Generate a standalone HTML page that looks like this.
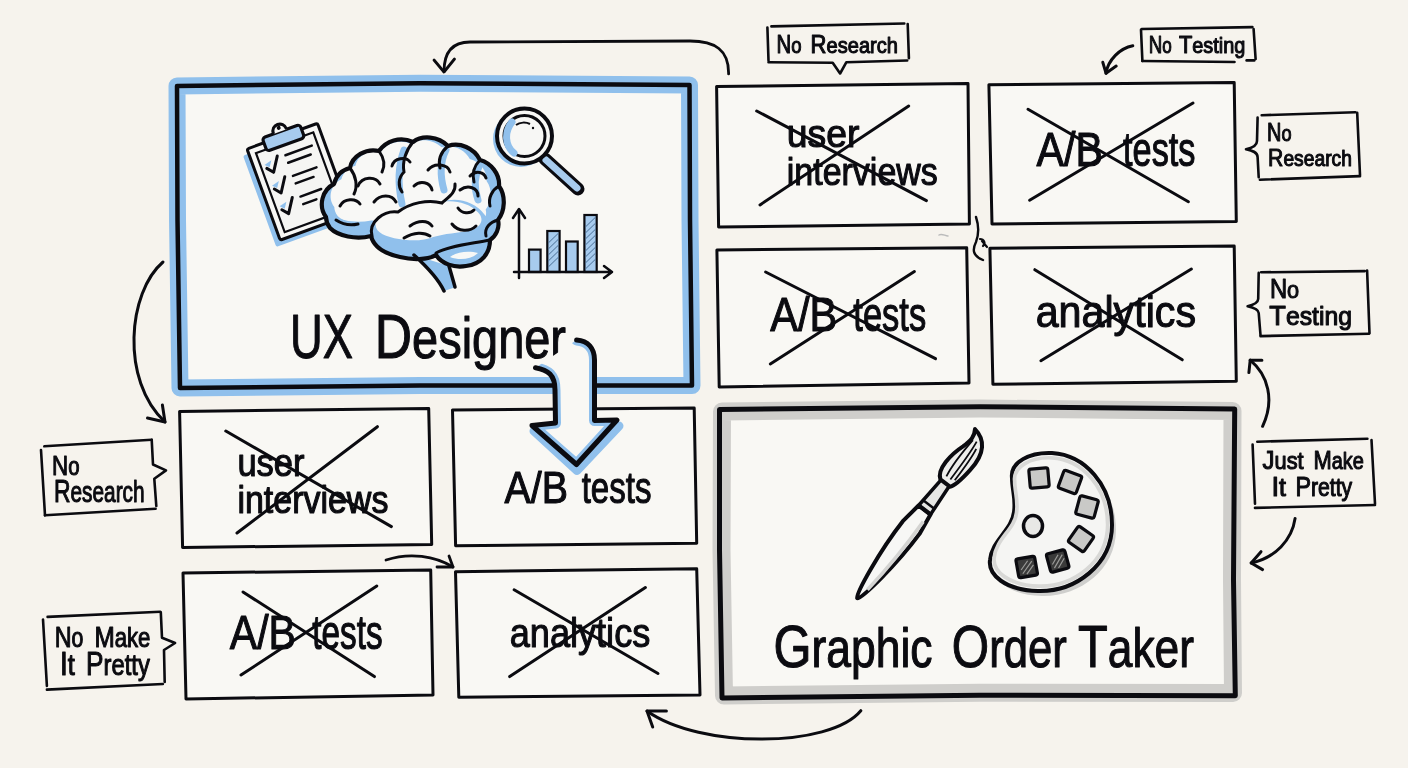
<!DOCTYPE html>
<html><head><meta charset="utf-8"><style>
html,body{margin:0;padding:0;background:#f6f3ed;overflow:hidden;}
svg{display:block;will-change:transform;}
text{font-family:"Liberation Sans",sans-serif;fill:#0b0b10;}
</style></head><body>
<svg width="1408" height="768" viewBox="0 0 1408 768">
<rect width="1408" height="768" fill="#f6f3ed"/>
<path d="M177,86 L420,83.2 L689.5,85 L690,220 L692,385.5 L420,385.4 L180,388 L177.5,220 Z" fill="#f9f8f4" stroke="#90c0ec" stroke-width="17" stroke-linejoin="round" stroke-linecap="round" />
<path d="M177,86 L420,83.2 L689.5,85 L690,220 L692,385.5 L420,385.4 L180,388 L177.5,220 Z" fill="none" stroke="#0b0b10" stroke-width="4.5" stroke-linejoin="round" stroke-linecap="round" />
<path d="M716.6,86.5 L968,83.6 L969.4,224 L718.6,227 Z" fill="#f9f8f4" stroke="#0b0b10" stroke-width="3" stroke-linejoin="round" stroke-linecap="round" />
<path d="M988.9,84.8 L1234.2,82.6 L1236.3,221.6 L992,224 Z" fill="#f9f8f4" stroke="#0b0b10" stroke-width="3" stroke-linejoin="round" stroke-linecap="round" />
<path d="M716.9,250 L966.7,247.7 L969,382.9 L719.2,386.9 Z" fill="#f9f8f4" stroke="#0b0b10" stroke-width="3" stroke-linejoin="round" stroke-linecap="round" />
<path d="M989.9,248.3 L1234.2,245.9 L1236.3,381.2 L992.9,384.2 Z" fill="#f9f8f4" stroke="#0b0b10" stroke-width="3" stroke-linejoin="round" stroke-linecap="round" />
<path d="M179.6,411.5 L428.7,408.5 L431.7,544.5 L182.6,547.5 Z" fill="#f9f8f4" stroke="#0b0b10" stroke-width="3" stroke-linejoin="round" stroke-linecap="round" />
<path d="M452.5,410 L694.2,408 L696.7,543.3 L455.6,545.8 Z" fill="#f9f8f4" stroke="#0b0b10" stroke-width="3" stroke-linejoin="round" stroke-linecap="round" />
<path d="M183,573 L430.7,570 L433,695 L186,699 Z" fill="#f9f8f4" stroke="#0b0b10" stroke-width="3" stroke-linejoin="round" stroke-linecap="round" />
<path d="M455.5,571.7 L696.7,568.8 L700,695 L458.8,697.2 Z" fill="#f9f8f4" stroke="#0b0b10" stroke-width="3" stroke-linejoin="round" stroke-linecap="round" />
<path d="M722,411.5 L980,408.5 L1232.5,411 L1232,580 L1233,693 L980,692.7 L724,695.5 L721.5,550 Z" fill="#f9f8f4" stroke="#cfcecb" stroke-width="18" stroke-linejoin="round" stroke-linecap="round" />
<path d="M719.5,409.5 L980,406.8 L1234.7,408.9 L1233.5,580 L1235.3,695.7 L980,695.3 L722,698 L719.5,550 Z" fill="none" stroke="#0b0b10" stroke-width="5" stroke-linejoin="round" stroke-linecap="round" />
<g transform="rotate(-20 247 149)">
<rect x="241" y="154" width="75" height="97" fill="#90c0ec" rx="2"/>
<rect x="247" y="149" width="75" height="97" fill="#f7f7f5" stroke="#0b0b10" stroke-width="3" rx="2"/>
<rect x="254" y="156" width="61" height="84" fill="#f5f5f3" stroke="#0b0b10" stroke-width="2.2"/>
<rect x="265" y="144" width="40" height="14" rx="3" fill="#a7cbee" stroke="#0b0b10" stroke-width="3.2"/>
<path d="M277,144 C277,134 291,134 291,144" fill="#f7f7f5" stroke="#0b0b10" stroke-width="3.2"/>
<circle cx="284" cy="140" r="2" fill="#0b0b10"/>
<path d="M259,174 L264,180 L273,166" fill="none" stroke="#0b0b10" stroke-width="3" stroke-linecap="round" stroke-linejoin="round"/>
<path d="M258,170 L262,174 L266,168 Z" fill="#90c0ec"/>
<line x1="281" y1="168" x2="309" y2="168" stroke="#0b0b10" stroke-width="2.5" stroke-linecap="round"/>
<line x1="281" y1="176" x2="305" y2="176" stroke="#0b0b10" stroke-width="2.5" stroke-linecap="round"/>
<path d="M259,196 L264,202 L273,188" fill="none" stroke="#0b0b10" stroke-width="3" stroke-linecap="round" stroke-linejoin="round"/>
<path d="M258,192 L262,196 L266,190 Z" fill="#90c0ec"/>
<line x1="281" y1="190" x2="306" y2="190" stroke="#0b0b10" stroke-width="2.5" stroke-linecap="round"/>
<line x1="281" y1="198" x2="300" y2="198" stroke="#0b0b10" stroke-width="2.5" stroke-linecap="round"/>
<path d="M259,218 L264,224 L273,210" fill="none" stroke="#0b0b10" stroke-width="3" stroke-linecap="round" stroke-linejoin="round"/>
<path d="M258,214 L262,218 L266,212 Z" fill="#90c0ec"/>
<line x1="281" y1="212" x2="303" y2="212" stroke="#0b0b10" stroke-width="2.5" stroke-linecap="round"/>
<line x1="281" y1="220" x2="295" y2="220" stroke="#0b0b10" stroke-width="2.5" stroke-linecap="round"/>
</g>
<path d="M326,217 C318,206 322,190 334,184 C336,176 342,170 350,168 C352,156 366,148 379,151 C386,141 400,136 413,142 C422,135 438,136 448,146 C460,142 474,148 480,160 C491,163 500,174 499,186 C506,196 505,211 498,220 C500,228 496,236 490,240 C490,253 482,264 466,266 C454,268 442,264 436,255 C428,260 412,260 400,257 C386,254 374,248 371,236 C356,240 338,236 330,228 C327,224 326,220 326,217 Z" fill="#90c0ec" stroke="none"/>
<path d="M326,217 C318,206 322,190 334,184 C336,176 342,170 350,168 C352,156 366,148 379,151 C386,141 400,136 413,142 C422,135 438,136 448,146 C460,142 474,148 480,160 C491,163 500,174 499,186 C506,196 505,211 498,220 C500,228 496,236 490,240 C490,253 482,264 466,266 C454,268 442,264 436,255 C428,260 412,260 400,257 C386,254 374,248 371,236 C356,240 338,236 330,228 C327,224 326,220 326,217 Z" fill="#f8f8f6" transform="translate(410 196) scale(0.88 0.84) translate(-412 -204)"/>
<path d="M338,222 C350,226 362,226 372,224" fill="none" stroke="#90c0ec" stroke-width="7" stroke-linecap="round"/>
<path d="M404,150 C398,166 398,186 402,204" fill="none" stroke="#90c0ec" stroke-width="7" stroke-linecap="round"/>
<path d="M446,150 C440,162 440,176 444,190" fill="none" stroke="#90c0ec" stroke-width="7" stroke-linecap="round"/>
<path d="M480,164 C474,176 474,188 478,200" fill="none" stroke="#90c0ec" stroke-width="7" stroke-linecap="round"/>
<path d="M496,214 C488,220 486,228 488,236" fill="none" stroke="#90c0ec" stroke-width="7" stroke-linecap="round"/>
<path d="M372,234 C368,220 384,210 398,211 C410,202 428,198 442,202 C456,196 476,202 484,214 C494,224 490,238 478,242 C464,246 448,247 436,252 C426,258 410,258 398,255 C384,252 372,246 372,234 Z" fill="#90c0ec"/>
<path d="M372,234 C368,220 384,210 398,211 C410,202 428,198 442,202 C456,196 476,202 484,214 C494,224 490,238 478,242 C464,246 448,247 436,252 C426,258 410,258 398,255 C384,252 372,246 372,234 Z" fill="#f8f8f6" transform="translate(426 222) scale(0.9 0.68) translate(-428 -230)"/>
<path d="M436,252 C448,246 470,244 488,240 C490,254 482,264 466,266 C454,268 442,264 436,255 Z" fill="#90c0ec"/>
<path d="M450,257 C458,251 470,251 478,253 C472,259 460,261 450,257 Z" fill="#f8f8f6"/>
<path d="M414,255 C426,266 438,278 444,291 L456,287 C452,278 450,272 449,266 Z" fill="#90c0ec"/>
<path d="M326,217 C318,206 322,190 334,184 C336,176 342,170 350,168 C352,156 366,148 379,151 C386,141 400,136 413,142 C422,135 438,136 448,146 C460,142 474,148 480,160 C491,163 500,174 499,186 C506,196 505,211 498,220 C500,228 496,236 490,240 C490,253 482,264 466,266 C454,268 442,264 436,255 C428,260 412,260 400,257 C386,254 374,248 371,236 C356,240 338,236 330,228 C327,224 326,220 326,217 Z" fill="none" stroke="#0b0b10" stroke-width="4.2" stroke-linejoin="round"/>
<path d="M372,236 C368,222 384,210 398,212 C410,203 428,199 442,203 C450,196 456,192 455,184" fill="none" stroke="#0b0b10" stroke-width="3" stroke-linecap="round"/>
<path d="M436,253 C448,246 470,244 490,240" fill="none" stroke="#0b0b10" stroke-width="3" stroke-linecap="round"/>
<path d="M350,168 C356,176 358,186 354,194" fill="none" stroke="#0b0b10" stroke-width="3" stroke-linecap="round"/>
<path d="M379,151 C384,158 385,166 382,172" fill="none" stroke="#0b0b10" stroke-width="3" stroke-linecap="round"/>
<path d="M413,142 C406,150 402,162 404,172 C398,178 398,186 402,192" fill="none" stroke="#0b0b10" stroke-width="3" stroke-linecap="round"/>
<path d="M448,146 C441,152 438,160 440,168" fill="none" stroke="#0b0b10" stroke-width="3" stroke-linecap="round"/>
<path d="M480,160 C474,166 472,174 474,182" fill="none" stroke="#0b0b10" stroke-width="3" stroke-linecap="round"/>
<path d="M499,186 C492,190 488,198 490,206" fill="none" stroke="#0b0b10" stroke-width="3" stroke-linecap="round"/>
<path d="M498,220 C490,222 484,228 486,236" fill="none" stroke="#0b0b10" stroke-width="3" stroke-linecap="round"/>
<path d="M340,206 C344,198 356,198 360,204" fill="none" stroke="#0b0b10" stroke-width="3" stroke-linecap="round"/>
<path d="M358,186 C362,176 376,176 380,184" fill="none" stroke="#0b0b10" stroke-width="3" stroke-linecap="round"/>
<path d="M392,166 C394,158 406,156 410,162" fill="none" stroke="#0b0b10" stroke-width="3" stroke-linecap="round"/>
<path d="M428,170 C434,162 448,164 450,172" fill="none" stroke="#0b0b10" stroke-width="3" stroke-linecap="round"/>
<path d="M374,202 C380,194 392,194 396,202" fill="none" stroke="#0b0b10" stroke-width="3" stroke-linecap="round"/>
<path d="M460,190 C468,184 478,188 478,196" fill="none" stroke="#0b0b10" stroke-width="3" stroke-linecap="round"/>
<path d="M404,238 C414,232 424,232 430,236" fill="none" stroke="#0b0b10" stroke-width="3" stroke-linecap="round"/>
<path d="M452,224 C458,232 470,232 476,226" fill="none" stroke="#0b0b10" stroke-width="3" stroke-linecap="round"/>
<path d="M336,220 C342,224 350,226 358,224" fill="none" stroke="#0b0b10" stroke-width="3" stroke-linecap="round"/>
<path d="M414,186 C420,180 430,182 432,190" fill="none" stroke="#0b0b10" stroke-width="3" stroke-linecap="round"/>
<path d="M458,208 C462,214 470,214 474,210" fill="none" stroke="#0b0b10" stroke-width="3" stroke-linecap="round"/>
<path d="M410,226 C418,220 428,220 432,226" fill="none" stroke="#0b0b10" stroke-width="3" stroke-linecap="round"/>
<path d="M470,176 C476,170 484,172 486,178" fill="none" stroke="#0b0b10" stroke-width="3" stroke-linecap="round"/>
<path d="M414,255 C426,266 438,278 444,291" fill="none" stroke="#0b0b10" stroke-width="3.5" stroke-linecap="round"/>
<path d="M449,266 L455,287" fill="none" stroke="#0b0b10" stroke-width="3.5" stroke-linecap="round"/>
<path d="M545,159 L578,189" stroke="#0b0b10" stroke-width="13" stroke-linecap="round"/>
<path d="M546,160 L577,188" stroke="#a7cbee" stroke-width="7" stroke-linecap="round"/>
<circle cx="521" cy="139" r="28" fill="#90c0ec"/>
<circle cx="524.5" cy="136" r="27.5" fill="#f7f7f5" stroke="#0b0b10" stroke-width="4"/>
<circle cx="524.5" cy="136" r="20.5" fill="#f7f7f5" stroke="#0b0b10" stroke-width="3"/>
<path d="M512,122 C504,132 505,146 514,153" fill="none" stroke="#90c0ec" stroke-width="7" stroke-linecap="round"/>
<path d="M516,125 C520,122 526,122 530,124" fill="none" stroke="#0b0b10" stroke-width="2"/>
<circle cx="533" cy="128" r="1.2" fill="#0b0b10"/>
<path d="M519,278 L519,210 M513,218 L519,209 L525,218" fill="none" stroke="#0b0b10" stroke-width="2.5" stroke-linecap="round" stroke-linejoin="round"/>
<rect x="529" y="249.6" width="11.600000000000023" height="22.400000000000006" fill="#a7cbee" stroke="#0b0b10" stroke-width="2.2"/>
<rect x="547.3" y="231" width="12.300000000000068" height="41" fill="#a7cbee" stroke="#0b0b10" stroke-width="2.2"/>
<path d="M548.3,243 L558.6,233 M548.3,249 L558.6,239 M548.3,255 L558.6,245 M548.3,261 L558.6,251 M548.3,267 L558.6,257" stroke="#4a6f96" stroke-width="1" fill="none"/>
<rect x="566" y="241.5" width="11.700000000000045" height="30.5" fill="#a7cbee" stroke="#0b0b10" stroke-width="2.2"/>
<rect x="584.4" y="215" width="12.300000000000068" height="57" fill="#a7cbee" stroke="#0b0b10" stroke-width="2.2"/>
<path d="M585.4,227 L595.7,217 M585.4,233 L595.7,223 M585.4,239 L595.7,229 M585.4,245 L595.7,235 M585.4,251 L595.7,241 M585.4,257 L595.7,247 M585.4,263 L595.7,253 M585.4,269 L595.7,259" stroke="#4a6f96" stroke-width="1" fill="none"/>
<path d="M514,272 L612,272 M604,266 L612,272 L604,278" fill="none" stroke="#0b0b10" stroke-width="2.5" stroke-linecap="round" stroke-linejoin="round"/>
<g transform="translate(857.8 597.5) rotate(-52.66)">
<path d="M-1,0 C2,-4 50,-11 88,-10.5 L110,-7.5 L110,7.5 L88,10.5 C50,11 2,4 -1,0 Z" fill="#f7f7f5" stroke="#0b0b10" stroke-width="4" stroke-linejoin="round"/>
<path d="M12,3 C40,6 70,7 100,6" fill="none" stroke="#d4d4d2" stroke-width="3.5"/>
<path d="M110,-7.5 L146,-5 L146,5 L110,7.5 Z" fill="#e6e6e4" stroke="#0b0b10" stroke-width="3.5" stroke-linejoin="round"/>
<path d="M111,-7.5 L111,7.5 M117,-7 L117,7" stroke="#0b0b10" stroke-width="2.5"/>
<path d="M144,-6 C150,-15 170,-13 184,-8 C194,-5 199,-5 205,-9 C203,5 192,14 170,12 C157,11 147,9 144,6 Z" fill="#ededeb" stroke="#0b0b10" stroke-width="4" stroke-linejoin="round"/>
<path d="M150,-3 C165,-6 180,-5 195,-4 M150,2 C168,2 182,2 196,0 M152,6 C166,6 180,6 190,4" fill="none" stroke="#0b0b10" stroke-width="1.8"/>
</g>
<path d="M1012,478 C1010,462 1030,452 1052,453 C1085,455 1112,485 1112,525 C1112,565 1075,592 1038,591 C1005,590 988,575 990,560 C992,540 1012,530 1014,512 C1016,498 1012,490 1012,478 Z" transform="translate(4 5)" fill="#cfcfcd"/>
<path d="M1012,478 C1010,462 1030,452 1052,453 C1085,455 1112,485 1112,525 C1112,565 1075,592 1038,591 C1005,590 988,575 990,560 C992,540 1012,530 1014,512 C1016,498 1012,490 1012,478 Z" fill="#f5f5f3" stroke="#0b0b10" stroke-width="4"/>
<ellipse cx="1033" cy="526" rx="9.5" ry="10.5" fill="#e8e8e6" stroke="#0b0b10" stroke-width="3.5"/>
<path d="M1012,478 C1010,462 1030,452 1052,453 C1085,455 1112,485 1112,525 C1112,565 1075,592 1038,591 C1005,590 988,575 990,560 C992,540 1012,530 1014,512 C1016,498 1012,490 1012,478 Z" fill="none" stroke="#d8d8d6" stroke-width="4" transform="translate(1050 522) scale(0.93) translate(-1050 -522)"/>
<rect x="1029.5" y="468.5" width="19" height="19" rx="2" transform="rotate(-5 1039 478)" fill="#c9c9c7" stroke="#0b0b10" stroke-width="3.2"/>
<rect x="1060.5" y="472.5" width="19" height="19" rx="2" transform="rotate(20 1070 482)" fill="#c9c9c7" stroke="#0b0b10" stroke-width="3.2"/>
<rect x="1077.5" y="497.5" width="19" height="19" rx="2" transform="rotate(15 1087 507)" fill="#c9c9c7" stroke="#0b0b10" stroke-width="3.2"/>
<rect x="1071.5" y="529.5" width="19" height="19" rx="2" transform="rotate(35 1081 539)" fill="#c9c9c7" stroke="#0b0b10" stroke-width="3.2"/>
<rect x="1048.2" y="551.5" width="19" height="19" rx="2" transform="rotate(-15 1057.7 561)" fill="#3a3a3a" stroke="#0b0b10" stroke-width="3.2"/>
<path d="M1051.7,563 L1059.7,555 M1052.7,567 L1063.7,556 M1056.7,568 L1064.7,560" stroke="#9a9a98" stroke-width="1.2" transform="rotate(-15 1057.7 561)"/>
<rect x="1017.2" y="557.5" width="19" height="19" rx="2" transform="rotate(-10 1026.7 567)" fill="#3a3a3a" stroke="#0b0b10" stroke-width="3.2"/>
<path d="M1020.7,569 L1028.7,561 M1021.7,573 L1032.7,562 M1025.7,574 L1033.7,566" stroke="#9a9a98" stroke-width="1.2" transform="rotate(-10 1026.7 567)"/>
<text x="786.8" y="147.3" font-size="39" textLength="72.7" lengthAdjust="spacingAndGlyphs" stroke="#0b0b10" stroke-width="1.10" stroke-linejoin="round"><tspan font-size="39.0">user</tspan></text>
<text x="786.8" y="184.6" font-size="38" textLength="151.0" lengthAdjust="spacingAndGlyphs" stroke="#0b0b10" stroke-width="1.10" stroke-linejoin="round"><tspan font-size="38.0">interviews</tspan></text>
<text x="1036.5" y="166" font-size="49" textLength="66.5" lengthAdjust="spacingAndGlyphs" stroke="#0b0b10" stroke-width="1.10" stroke-linejoin="round"><tspan font-size="49">A/B</tspan></text>
<text x="1123" y="166" font-size="49" textLength="72.5" lengthAdjust="spacingAndGlyphs" stroke="#0b0b10" stroke-width="1.10" stroke-linejoin="round"><tspan font-size="49.0">tests</tspan></text>
<text x="770.2" y="330.5" font-size="49" textLength="67.1" lengthAdjust="spacingAndGlyphs" stroke="#0b0b10" stroke-width="1.10" stroke-linejoin="round"><tspan font-size="49">A/B</tspan></text>
<text x="853.3" y="330.5" font-size="49" textLength="72.9" lengthAdjust="spacingAndGlyphs" stroke="#0b0b10" stroke-width="1.10" stroke-linejoin="round"><tspan font-size="49.0">tests</tspan></text>
<text x="1035.7" y="326.8" font-size="45" textLength="160.3" lengthAdjust="spacingAndGlyphs" stroke="#0b0b10" stroke-width="1.10" stroke-linejoin="round"><tspan font-size="45.0">analytics</tspan></text>
<text x="290" y="357.8" font-size="63" textLength="63.0" lengthAdjust="spacingAndGlyphs" stroke="#0b0b10" stroke-width="1.10" stroke-linejoin="round"><tspan font-size="63">UX</tspan></text>
<text x="374.8" y="357.8" font-size="63" textLength="191.2" lengthAdjust="spacingAndGlyphs" stroke="#0b0b10" stroke-width="1.10" stroke-linejoin="round"><tspan font-size="63">D</tspan><tspan font-size="57.3">esigner</tspan></text>
<text x="237.4" y="476" font-size="39" textLength="67.1" lengthAdjust="spacingAndGlyphs" stroke="#0b0b10" stroke-width="1.10" stroke-linejoin="round"><tspan font-size="39.0">user</tspan></text>
<text x="237.4" y="513.3" font-size="38" textLength="151.0" lengthAdjust="spacingAndGlyphs" stroke="#0b0b10" stroke-width="1.10" stroke-linejoin="round"><tspan font-size="38.0">interviews</tspan></text>
<text x="504.6" y="503" font-size="44" textLength="63.4" lengthAdjust="spacingAndGlyphs" stroke="#0b0b10" stroke-width="1.10" stroke-linejoin="round"><tspan font-size="44">A/B</tspan></text>
<text x="581.7" y="503" font-size="44" textLength="69.8" lengthAdjust="spacingAndGlyphs" stroke="#0b0b10" stroke-width="1.10" stroke-linejoin="round"><tspan font-size="44.0">tests</tspan></text>
<text x="229.8" y="649" font-size="49" textLength="66.2" lengthAdjust="spacingAndGlyphs" stroke="#0b0b10" stroke-width="1.10" stroke-linejoin="round"><tspan font-size="49">A/B</tspan></text>
<text x="312.3" y="649" font-size="49" textLength="70.3" lengthAdjust="spacingAndGlyphs" stroke="#0b0b10" stroke-width="1.10" stroke-linejoin="round"><tspan font-size="49.0">tests</tspan></text>
<text x="509.7" y="647" font-size="41.5" textLength="140.6" lengthAdjust="spacingAndGlyphs" stroke="#0b0b10" stroke-width="1.10" stroke-linejoin="round"><tspan font-size="41.5">analytics</tspan></text>
<text x="773.4" y="667" font-size="60" textLength="159.2" lengthAdjust="spacingAndGlyphs" stroke="#0b0b10" stroke-width="1.10" stroke-linejoin="round"><tspan font-size="60">G</tspan><tspan font-size="54.6">raphic</tspan></text>
<text x="951.8" y="667" font-size="60" textLength="115.0" lengthAdjust="spacingAndGlyphs" stroke="#0b0b10" stroke-width="1.10" stroke-linejoin="round"><tspan font-size="60">O</tspan><tspan font-size="54.6">rder</tspan></text>
<text x="1078" y="667" font-size="60" textLength="116.0" lengthAdjust="spacingAndGlyphs" stroke="#0b0b10" stroke-width="1.10" stroke-linejoin="round"><tspan font-size="60">T</tspan><tspan font-size="54.6">aker</tspan></text>
<line x1="756.7" y1="111" x2="926.4" y2="200.6" stroke="#0b0b10" stroke-width="3" stroke-linecap="round"/>
<line x1="760" y1="204.9" x2="908.7" y2="106" stroke="#0b0b10" stroke-width="3" stroke-linecap="round"/>
<line x1="1028" y1="109.2" x2="1188.4" y2="201.7" stroke="#0b0b10" stroke-width="3" stroke-linecap="round"/>
<line x1="1029.6" y1="200.2" x2="1193" y2="103" stroke="#0b0b10" stroke-width="3" stroke-linecap="round"/>
<line x1="765.6" y1="272" x2="935.5" y2="358.7" stroke="#0b0b10" stroke-width="3" stroke-linecap="round"/>
<line x1="770.3" y1="364" x2="914.4" y2="271.6" stroke="#0b0b10" stroke-width="3" stroke-linecap="round"/>
<line x1="1034.8" y1="269.7" x2="1182.3" y2="359.8" stroke="#0b0b10" stroke-width="3" stroke-linecap="round"/>
<line x1="1040.9" y1="360.7" x2="1191.4" y2="269" stroke="#0b0b10" stroke-width="3" stroke-linecap="round"/>
<line x1="225.8" y1="431" x2="391.4" y2="526.6" stroke="#0b0b10" stroke-width="3" stroke-linecap="round"/>
<line x1="237" y1="533" x2="377.4" y2="426.7" stroke="#0b0b10" stroke-width="3" stroke-linecap="round"/>
<line x1="243" y1="592" x2="374.4" y2="676.6" stroke="#0b0b10" stroke-width="3" stroke-linecap="round"/>
<line x1="241" y1="675" x2="376.8" y2="586" stroke="#0b0b10" stroke-width="3" stroke-linecap="round"/>
<line x1="514.1" y1="589.8" x2="658" y2="673.5" stroke="#0b0b10" stroke-width="3" stroke-linecap="round"/>
<line x1="509.7" y1="676.6" x2="645.4" y2="587.6" stroke="#0b0b10" stroke-width="3" stroke-linecap="round"/>
<path d="M771.4,26.4 L904.3,23.5" fill="none" stroke="#0b0b10" stroke-width="2.6" stroke-linejoin="round" stroke-linecap="round" />
<path d="M907.7,24 L908.9,58.2" fill="none" stroke="#0b0b10" stroke-width="2.6" stroke-linejoin="round" stroke-linecap="round" />
<path d="M767.4,27.5 L768.5,60.5" fill="none" stroke="#0b0b10" stroke-width="2.6" stroke-linejoin="round" stroke-linecap="round" />
<path d="M768.5,62.2 L832.7,62.7 L840.1,73.5 L846.4,62.2 L907.2,60.5" fill="none" stroke="#0b0b10" stroke-width="2.6" stroke-linejoin="round" stroke-linecap="round" />
<text x="776.5" y="52.5" font-size="25" textLength="25.0" lengthAdjust="spacingAndGlyphs" stroke="#0b0b10" stroke-width="1.10" stroke-linejoin="round"><tspan font-size="25">N</tspan><tspan font-size="22.8">o</tspan></text>
<text x="810.6" y="52.5" font-size="25" textLength="87.4" lengthAdjust="spacingAndGlyphs" stroke="#0b0b10" stroke-width="1.10" stroke-linejoin="round"><tspan font-size="25">R</tspan><tspan font-size="22.8">esearch</tspan></text>
<path d="M1141.8,29 L1252.4,27.1" fill="none" stroke="#0b0b10" stroke-width="2.6" stroke-linejoin="round" stroke-linecap="round" />
<path d="M1141,29.7 L1142.4,61" fill="none" stroke="#0b0b10" stroke-width="2.6" stroke-linejoin="round" stroke-linecap="round" />
<path d="M1142.4,61 L1234.5,62" fill="none" stroke="#0b0b10" stroke-width="2.6" stroke-linejoin="round" stroke-linecap="round" />
<path d="M1246.6,60.4 L1254.3,60.4" fill="none" stroke="#0b0b10" stroke-width="2.6" stroke-linejoin="round" stroke-linecap="round" />
<path d="M1253.6,29 L1255.6,59" fill="none" stroke="#0b0b10" stroke-width="2.6" stroke-linejoin="round" stroke-linecap="round" />
<text x="1148.8" y="53.4" font-size="24.5" textLength="23.0" lengthAdjust="spacingAndGlyphs" stroke="#0b0b10" stroke-width="1.10" stroke-linejoin="round"><tspan font-size="24.5">N</tspan><tspan font-size="22.3">o</tspan></text>
<text x="1178.9" y="53.4" font-size="24.5" textLength="66.4" lengthAdjust="spacingAndGlyphs" stroke="#0b0b10" stroke-width="1.10" stroke-linejoin="round"><tspan font-size="24.5">T</tspan><tspan font-size="22.3">esting</tspan></text>
<path d="M1261.7,115.2 L1355.4,112.3" fill="none" stroke="#0b0b10" stroke-width="2.6" stroke-linejoin="round" stroke-linecap="round" />
<path d="M1357.2,112.9 L1360,175" fill="none" stroke="#0b0b10" stroke-width="2.6" stroke-linejoin="round" stroke-linecap="round" />
<path d="M1259.9,179.7 L1360,176.1" fill="none" stroke="#0b0b10" stroke-width="2.6" stroke-linejoin="round" stroke-linecap="round" />
<path d="M1257.6,117.6 L1257,141 C1257,146 1252,148 1246,149.2 C1252,150.5 1257.5,152 1257.6,157 L1258.7,177.3" fill="none" stroke="#0b0b10" stroke-width="2.6" stroke-linejoin="round" stroke-linecap="round" />
<text x="1267" y="141" font-size="25" textLength="24.5" lengthAdjust="spacingAndGlyphs" stroke="#0b0b10" stroke-width="1.10" stroke-linejoin="round"><tspan font-size="25">N</tspan><tspan font-size="22.8">o</tspan></text>
<text x="1268.1" y="166.2" font-size="24.5" textLength="83.8" lengthAdjust="spacingAndGlyphs" stroke="#0b0b10" stroke-width="1.10" stroke-linejoin="round"><tspan font-size="24.5">R</tspan><tspan font-size="22.3">esearch</tspan></text>
<path d="M1261.1,272.3 L1364.8,271.1" fill="none" stroke="#0b0b10" stroke-width="2.6" stroke-linejoin="round" stroke-linecap="round" />
<path d="M1367.1,270.5 L1369.5,333.2" fill="none" stroke="#0b0b10" stroke-width="2.6" stroke-linejoin="round" stroke-linecap="round" />
<path d="M1260.5,336.1 L1368.9,333.8" fill="none" stroke="#0b0b10" stroke-width="2.6" stroke-linejoin="round" stroke-linecap="round" />
<path d="M1258.7,272.9 L1258.2,299 C1258,303 1253,305 1247.6,306.3 C1253,307.5 1258.5,309 1258.7,313 L1260.5,335" fill="none" stroke="#0b0b10" stroke-width="2.6" stroke-linejoin="round" stroke-linecap="round" />
<text x="1269.9" y="298.1" font-size="27" textLength="29.3" lengthAdjust="spacingAndGlyphs" stroke="#0b0b10" stroke-width="1.10" stroke-linejoin="round"><tspan font-size="27">N</tspan><tspan font-size="24.6">o</tspan></text>
<text x="1269.3" y="325" font-size="28" textLength="82.6" lengthAdjust="spacingAndGlyphs" stroke="#0b0b10" stroke-width="1.10" stroke-linejoin="round"><tspan font-size="28">T</tspan><tspan font-size="25.5">esting</tspan></text>
<path d="M1257.3,441.7 L1367.4,438.8" fill="none" stroke="#0b0b10" stroke-width="2.6" stroke-linejoin="round" stroke-linecap="round" />
<path d="M1371.5,440 L1375,503.8" fill="none" stroke="#0b0b10" stroke-width="2.6" stroke-linejoin="round" stroke-linecap="round" />
<path d="M1255,507.9 L1375,505" fill="none" stroke="#0b0b10" stroke-width="2.6" stroke-linejoin="round" stroke-linecap="round" />
<path d="M1252.6,444.6 L1255,503.8" fill="none" stroke="#0b0b10" stroke-width="2.6" stroke-linejoin="round" stroke-linecap="round" />
<text x="1262.6" y="468.7" font-size="26.5" textLength="41.0" lengthAdjust="spacingAndGlyphs" stroke="#0b0b10" stroke-width="1.10" stroke-linejoin="round"><tspan font-size="26.5">J</tspan><tspan font-size="24.1">ust</tspan></text>
<text x="1313.5" y="468.7" font-size="26.5" textLength="50.4" lengthAdjust="spacingAndGlyphs" stroke="#0b0b10" stroke-width="1.10" stroke-linejoin="round"><tspan font-size="26.5">M</tspan><tspan font-size="24.1">ake</tspan></text>
<text x="1271.4" y="495.6" font-size="28" textLength="14.6" lengthAdjust="spacingAndGlyphs" stroke="#0b0b10" stroke-width="1.10" stroke-linejoin="round"><tspan font-size="28">I</tspan><tspan font-size="25.5">t</tspan></text>
<text x="1295.4" y="495.6" font-size="28" textLength="56.8" lengthAdjust="spacingAndGlyphs" stroke="#0b0b10" stroke-width="1.10" stroke-linejoin="round"><tspan font-size="28">P</tspan><tspan font-size="25.5">retty</tspan></text>
<path d="M44.3,446.3 L151.7,439.8" fill="none" stroke="#0b0b10" stroke-width="2.6" stroke-linejoin="round" stroke-linecap="round" />
<path d="M41,450 L45,515.3" fill="none" stroke="#0b0b10" stroke-width="2.6" stroke-linejoin="round" stroke-linecap="round" />
<path d="M45,515.3 L155.6,508.8" fill="none" stroke="#0b0b10" stroke-width="2.6" stroke-linejoin="round" stroke-linecap="round" />
<path d="M151.7,439.8 L153,464.5 L166,470.4 L154.3,478.8 L156.3,506" fill="none" stroke="#0b0b10" stroke-width="2.6" stroke-linejoin="round" stroke-linecap="round" />
<text x="52" y="475" font-size="28" textLength="27.5" lengthAdjust="spacingAndGlyphs" stroke="#0b0b10" stroke-width="1.10" stroke-linejoin="round"><tspan font-size="28">N</tspan><tspan font-size="25.5">o</tspan></text>
<text x="54" y="501.6" font-size="32" textLength="90.6" lengthAdjust="spacingAndGlyphs" stroke="#0b0b10" stroke-width="1.10" stroke-linejoin="round"><tspan font-size="32">R</tspan><tspan font-size="29.1">esearch</tspan></text>
<path d="M47.6,616.9 L160.2,611.7" fill="none" stroke="#0b0b10" stroke-width="2.6" stroke-linejoin="round" stroke-linecap="round" />
<path d="M43,619.5 L46.9,685.9" fill="none" stroke="#0b0b10" stroke-width="2.6" stroke-linejoin="round" stroke-linecap="round" />
<path d="M46.9,689.6 L162.8,684" fill="none" stroke="#0b0b10" stroke-width="2.6" stroke-linejoin="round" stroke-linecap="round" />
<path d="M160.8,612.4 L162,637.7 L175.1,643 L164,650 L164.7,682" fill="none" stroke="#0b0b10" stroke-width="2.6" stroke-linejoin="round" stroke-linecap="round" />
<text x="54.7" y="646.9" font-size="30" textLength="28.7" lengthAdjust="spacingAndGlyphs" stroke="#0b0b10" stroke-width="1.10" stroke-linejoin="round"><tspan font-size="30">N</tspan><tspan font-size="27.3">o</tspan></text>
<text x="94.4" y="646.9" font-size="30" textLength="56.0" lengthAdjust="spacingAndGlyphs" stroke="#0b0b10" stroke-width="1.10" stroke-linejoin="round"><tspan font-size="30">M</tspan><tspan font-size="27.3">ake</tspan></text>
<text x="60" y="674.9" font-size="33" textLength="14.9" lengthAdjust="spacingAndGlyphs" stroke="#0b0b10" stroke-width="1.10" stroke-linejoin="round"><tspan font-size="33">I</tspan><tspan font-size="30.0">t</tspan></text>
<text x="86" y="674.9" font-size="33" textLength="63.8" lengthAdjust="spacingAndGlyphs" stroke="#0b0b10" stroke-width="1.10" stroke-linejoin="round"><tspan font-size="33">P</tspan><tspan font-size="30.0">retty</tspan></text>
<path d="M728.6,73.9 C729,50 715,41 690,41 L470,42 C450,42 444,55 444,71.6" fill="none" stroke="#0b0b10" stroke-width="2.8" stroke-linejoin="round" stroke-linecap="round" />
<path d="M434,60 L444,72 L454.5,59" fill="none" stroke="#0b0b10" stroke-width="2.8" stroke-linejoin="round" stroke-linecap="round" />
<path d="M1132.8,45.7 C1120,48 1108,60 1106,73.2" fill="none" stroke="#0b0b10" stroke-width="3" stroke-linejoin="round" stroke-linecap="round" />
<path d="M1102.8,62.3 L1106,73.2 L1116.2,66.1" fill="none" stroke="#0b0b10" stroke-width="3" stroke-linejoin="round" stroke-linecap="round" />
<path d="M163,262 C128,292 120,380 165,422" fill="none" stroke="#0b0b10" stroke-width="3" stroke-linejoin="round" stroke-linecap="round" />
<path d="M147.5,418 L165,422 L162.4,405" fill="none" stroke="#0b0b10" stroke-width="3" stroke-linejoin="round" stroke-linecap="round" />
<path d="M386,560 C410,552 435,556 453,567" fill="none" stroke="#0b0b10" stroke-width="2.8" stroke-linejoin="round" stroke-linecap="round" />
<path d="M437,567 L453,567 L449,556" fill="none" stroke="#0b0b10" stroke-width="2.8" stroke-linejoin="round" stroke-linecap="round" />
<path d="M860.8,710.7 C830,748 700,749 647,711" fill="none" stroke="#0b0b10" stroke-width="3" stroke-linejoin="round" stroke-linecap="round" />
<path d="M666.4,711 L647,711 L652.7,727" fill="none" stroke="#0b0b10" stroke-width="3" stroke-linejoin="round" stroke-linecap="round" />
<path d="M1262.6,426.3 C1275,400 1268,375 1250.2,360.2" fill="none" stroke="#0b0b10" stroke-width="3" stroke-linejoin="round" stroke-linecap="round" />
<path d="M1248.9,372.6 L1250.2,360.2 L1261.9,360.2" fill="none" stroke="#0b0b10" stroke-width="3" stroke-linejoin="round" stroke-linecap="round" />
<path d="M1295.1,518.4 C1292,540 1275,558 1251.2,563" fill="none" stroke="#0b0b10" stroke-width="3" stroke-linejoin="round" stroke-linecap="round" />
<path d="M1261,551.7 L1251.2,563 L1262.6,569.6" fill="none" stroke="#0b0b10" stroke-width="3" stroke-linejoin="round" stroke-linecap="round" />
<path d="M976,217 C979,226 979,234 976,242 C972,250 973,256 983,260" fill="none" stroke="#0b0b10" stroke-width="2.4" stroke-linejoin="round" stroke-linecap="round" />
<path d="M980,239 C984,239 986,243 983,246 M982,241 L987,247" fill="none" stroke="#0b0b10" stroke-width="2.2" stroke-linejoin="round" stroke-linecap="round" />
<path d="M939,235 C942,233 945,236 948,236" fill="none" stroke="#bbb" stroke-width="1.5" stroke-linejoin="round" stroke-linecap="round" />
<defs><clipPath id="ac"><path d="M535.5,367.8 C548,370 555,375 555,390 L555.5,423 L532,425.5 L576.5,464.5 L617,420 L594.5,420.5 L594.5,360 C594.5,348 588,341 576.6,340 Z"/></clipPath></defs>
<path d="M535.5,367.8 C548,370 555,375 555,390 L555.5,423 L532,425.5 L576.5,464.5 L617,420 L594.5,420.5 L594.5,360 C594.5,348 588,341 576.6,340 Z" fill="#f9f8f4" stroke="none" stroke-width="0" stroke-linejoin="round" stroke-linecap="round" />
<path d="M534,428 L577,467.5 L619,423" fill="none" stroke="#90c0ec" stroke-width="9" stroke-linejoin="round" stroke-linecap="round" transform="translate(0 3)"/>
<path d="M535.5,367.8 C548,370 555,375 555,390 L555.5,423 L532,425.5 L576.5,464.5 L617,420 L594.5,420.5 L594.5,360 C594.5,348 588,341 576.6,340" fill="none" stroke="#90c0ec" stroke-width="11" stroke-linejoin="round" stroke-linecap="round" clip-path="url(#ac)"/>
<path d="M535.5,367.8 C548,370 555,375 555,390 L555.5,423 L532,425.5 L576.5,464.5 L617,420 L594.5,420.5 L594.5,360 C594.5,348 588,341 576.6,340" fill="none" stroke="#0b0b10" stroke-width="5" stroke-linejoin="round" stroke-linecap="round" />
</svg>
</body></html>
